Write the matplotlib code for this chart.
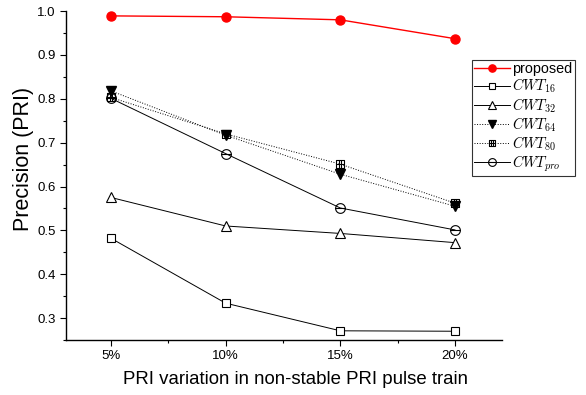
import numpy as np
import matplotlib
matplotlib.use("Agg")
import matplotlib.pyplot as plt
from matplotlib.path import Path

plt.rcParams["font.family"] = ["Liberation Sans", "DejaVu Sans"]
plt.rcParams["mathtext.fontset"] = "cm"

variation = [5, 10, 15, 20]
tick_labels = ["5%", "10%", "15%", "20%"]

proposed = [0.989, 0.987, 0.980, 0.937]
cwt16 = [0.482, 0.334, 0.271, 0.270]
cwt32 = [0.575, 0.510, 0.493, 0.472]
cwt64 = [0.818, 0.717, 0.628, 0.555]
cwt80 = [0.803, 0.720, 0.651, 0.562]
cwt_pro = [0.801, 0.675, 0.551, 0.501]

# custom markers: boxed cross and circle with bar
sq = [(-1, -1), (1, -1), (1, 1), (-1, 1), (-1, -1)]
verts = sq + [(-0.35, -1), (-0.35, 1), (0.35, -1), (0.35, 1), (-1, 0), (1, 0)]
codes = [Path.MOVETO] + [Path.LINETO] * 4 + [Path.MOVETO, Path.LINETO] * 3
box_cross = Path(verts, codes)

t = np.linspace(0, 2 * np.pi, 40)
circ = list(zip(np.cos(t), np.sin(t)))
cverts = circ + [(-1, 0), (1, 0)]
ccodes = [Path.MOVETO] + [Path.LINETO] * (len(circ) - 1) + [Path.MOVETO, Path.LINETO]
circ_bar = Path(cverts, ccodes)

fig = plt.figure(figsize=(5.86, 3.95), dpi=100)
ax = fig.add_axes([0.1126, 0.1392, 0.7441, 0.8328])

lw = 0.7
ax.plot(variation, proposed, color="#ff0000", lw=1.0, marker="o", ms=6.5,
        mfc="#ff0000", mec="#ff0000", label="proposed", zorder=5)
ax.plot(variation, cwt16, color="black", lw=lw, marker="s", ms=6, mfc="white",
        mec="black", mew=0.8, label=r"$CWT_{16}$")
ax.plot(variation, cwt32, color="black", lw=lw, marker="^", ms=7, mfc="white",
        mec="black", mew=0.8, label=r"$CWT_{32}$")
ax.plot(variation, cwt64, color="black", lw=lw, ls=":", marker="v", ms=7,
        mfc="black", mec="black", label=r"$CWT_{64}$")
ax.plot(variation, cwt80, color="black", lw=lw, ls=":", marker=box_cross, ms=6,
        mfc="none", mec="black", mew=0.8, label=r"$CWT_{80}$")
ax.plot(variation, cwt_pro, color="black", lw=lw, marker=circ_bar, ms=7,
        mfc="none", mec="black", mew=0.8, label=r"$CWT_{pro}$")

ax.set_xlim(3.04, 22.05)
ax.set_ylim(0.25, 1.0)
ax.set_xticks(variation)
ax.set_xticklabels(tick_labels)
ax.set_xticks([7.5, 12.5, 17.5], minor=True)
ax.set_yticks([0.3, 0.4, 0.5, 0.6, 0.7, 0.8, 0.9, 1.0])
ax.set_yticks(np.arange(0.25, 1.0, 0.1), minor=True)
ax.tick_params(axis="both", which="major", direction="out", length=4, width=0.8,
               labelsize=9.5, colors="black")
ax.tick_params(axis="both", which="minor", direction="out", length=2, width=0.8)

for side in ("top", "right"):
    ax.spines[side].set_visible(False)
for side in ("left", "bottom"):
    ax.spines[side].set_linewidth(1.0)

ax.set_xlabel("PRI variation in non-stable PRI pulse train", fontsize=13.4)
ax.set_ylabel("Precision (PRI)", fontsize=15.5)
ax.xaxis.set_label_coords(0.527, -0.094)
ax.yaxis.set_label_coords(-0.074, 0.55)

leg = ax.legend(loc="upper left", bbox_to_anchor=(472 / 586, 1 - 60 / 395),
                bbox_transform=fig.transFigure, fontsize=10.4,
                frameon=True, fancybox=False, edgecolor="black",
                handlelength=2.5, handletextpad=0.15, borderpad=0.15,
                labelspacing=0.05, borderaxespad=0.0, markerscale=0.8)
leg.get_frame().set_linewidth(0.8)

fig.savefig("out.png", dpi=100)
